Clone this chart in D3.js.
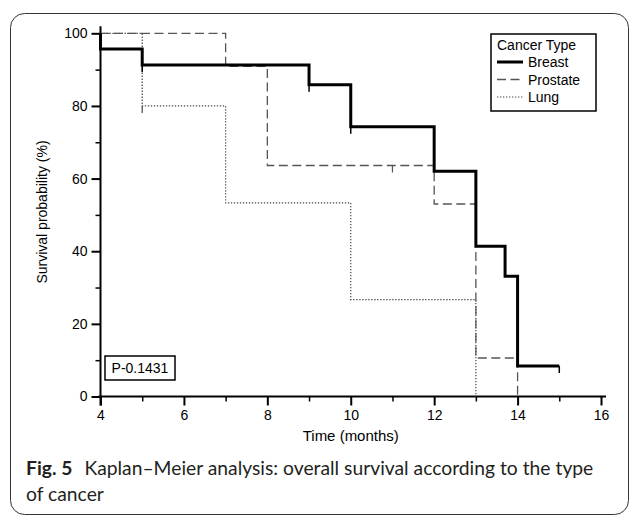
<!DOCTYPE html>
<html lang="en">
<head>
  <meta charset="UTF-8" />
  <title>Kaplan-Meier survival by cancer type</title>
  <script src="https://d3js.org/d3.v7.min.js"></script>
  <style>
    body {
      margin: 0;
      padding: 0;
      background-color: #fff;
    }
    svg {
      display: block;
    }
    .axis text {
      font-family: Arial, "Liberation Sans", sans-serif;
      font-size: 14px;
      fill: #000;
    }
    .axis path,
    .axis line {
      stroke: #000;
    }
  </style>
</head>
<body>
  <svg width="630" height="515"></svg>

  <script>
    // step data (time in months, survival in %)
    const breastTimes = [4, 4, 5, 9, 10, 12, 13, 13.7, 14, 15];
    const breastSurv = [100, 95.7, 91.3, 85.8, 74.3, 62.0, 41.4, 33.1, 8.4, 8.4];
    const breastCensor = [5, 9, 10, 15];

    const prostateTimes = [4, 7, 8, 12, 13, 14];
    const prostateSurv = [100, 90.9, 63.6, 53.0, 10.6, 0];
    const prostateCensor = [11];

    const lungTimes = [4, 5, 7, 10, 13];
    const lungSurv = [100, 80, 53.3, 26.7, 0];
    const lungCensor = [5];

    const xMajor = [4, 6, 8, 10, 12, 14, 16];
    const xMinor = [5, 7, 9, 11, 13, 15];
    const yMajor = [0, 20, 40, 60, 80, 100];
    const yMinor = [10, 30, 50, 70, 90];

    const seriesNames = ["Breast", "Prostate", "Lung"];
    const pLabel = "P-0.1431";

    const svg = d3.select("svg");
    const font = "Arial, 'Liberation Sans', sans-serif";

    // frame round the figure
    svg.append("rect")
      .attr("x", 10.5).attr("y", 13.5)
      .attr("width", 618).attr("height", 501)
      .attr("rx", 14)
      .attr("fill", "none")
      .attr("stroke", "#333")
      .attr("stroke-width", 1);

    const x = d3.scaleLinear().domain([4, 16]).range([100.5, 601]);
    const y = d3.scaleLinear().domain([0, 100]).range([396.5, 33.3]);

    // axes
    const gx = svg.append("g").attr("class", "axis")
      .attr("transform", `translate(0,${y(0)})`);
    gx.call(d3.axisBottom(x).tickValues(xMajor).tickSize(9).tickSizeOuter(0).tickPadding(5));
    gx.select(".domain").remove();
    gx.selectAll(".tick line").attr("stroke-width", 2);

    const gxm = svg.append("g").attr("class", "axis")
      .attr("transform", `translate(0,${y(0)})`);
    gxm.call(d3.axisBottom(x).tickValues(xMinor).tickSize(5).tickFormat(""));
    gxm.select(".domain").remove();
    gxm.selectAll(".tick line").attr("stroke-width", 1.5);

    const gy = svg.append("g").attr("class", "axis")
      .attr("transform", `translate(${x(4)},0)`);
    gy.call(d3.axisLeft(y).tickValues(yMajor).tickSize(9).tickSizeOuter(0).tickPadding(4));
    gy.select(".domain").remove();
    gy.selectAll(".tick line").attr("stroke-width", 2);

    const gym = svg.append("g").attr("class", "axis")
      .attr("transform", `translate(${x(4)},0)`);
    gym.call(d3.axisLeft(y).tickValues(yMinor).tickSize(5).tickFormat(""));
    gym.select(".domain").remove();
    gym.selectAll(".tick line").attr("stroke-width", 1.5);

    // axis lines, running a little past the ends
    svg.append("line")
      .attr("x1", x(4) - 2).attr("x2", x(16) + 5)
      .attr("y1", y(0)).attr("y2", y(0))
      .attr("stroke", "#000").attr("stroke-width", 2);
    svg.append("line")
      .attr("x1", x(4)).attr("x2", x(4))
      .attr("y1", y(0) + 9).attr("y2", y(100) - 7)
      .attr("stroke", "#000").attr("stroke-width", 2);

    // axis titles
    svg.append("text")
      .attr("x", (x(4) + x(16)) / 2)
      .attr("y", 441)
      .attr("text-anchor", "middle")
      .attr("font-family", font)
      .attr("font-size", 15)
      .text("Time (months)");

    svg.append("text")
      .attr("transform", "translate(47,212) rotate(-90)")
      .attr("text-anchor", "middle")
      .attr("font-family", font)
      .attr("font-size", 14)
      .text("Survival probability (%)");

    // survival curves
    const styles = {
      Breast: { stroke: "#000", width: 3, dash: null },
      Prostate: { stroke: "#555", width: 1.3, dash: "9,4.5" },
      Lung: { stroke: "#444", width: 1.2, dash: "1.3,1.7" }
    };

    const series = [
      { name: "Lung", times: lungTimes, surv: lungSurv, censor: lungCensor },
      { name: "Prostate", times: prostateTimes, surv: prostateSurv, censor: prostateCensor },
      { name: "Breast", times: breastTimes, surv: breastSurv, censor: breastCensor }
    ];

    const line = d3.line()
      .x(d => x(d[0]))
      .y(d => y(d[1]))
      .curve(d3.curveStepAfter);

    function survAt(s, t) {
      let v = s.surv[0];
      s.times.forEach((tt, i) => { if (tt <= t) v = s.surv[i]; });
      return v;
    }

    series.forEach(s => {
      const st = styles[s.name];
      const pts = s.times.map((t, i) => [t, s.surv[i]]);
      svg.append("path")
        .datum(pts)
        .attr("d", line)
        .attr("fill", "none")
        .attr("stroke", st.stroke)
        .attr("stroke-width", st.width)
        .attr("stroke-dasharray", st.dash)
        .attr("stroke-linejoin", "miter");

      svg.selectAll(null)
        .data(s.censor)
        .enter().append("line")
        .attr("x1", d => x(d)).attr("x2", d => x(d))
        .attr("y1", d => y(survAt(s, d)))
        .attr("y2", d => y(survAt(s, d)) + 7)
        .attr("stroke", st.stroke)
        .attr("stroke-width", s.name === "Breast" ? 1.5 : 1.2);
    });

    // legend
    const lg = svg.append("g").attr("transform", "translate(491,34)");
    lg.append("rect")
      .attr("width", 105).attr("height", 77)
      .attr("fill", "#fff")
      .attr("stroke", "#000")
      .attr("stroke-width", 1.5);
    lg.append("text")
      .attr("x", 6).attr("y", 16)
      .attr("font-family", font).attr("font-size", 14)
      .text("Cancer Type");
    seriesNames.forEach((name, i) => {
      const st = styles[name];
      const cy = 28 + i * 17.5;
      lg.append("line")
        .attr("x1", 6).attr("x2", 32)
        .attr("y1", cy).attr("y2", cy)
        .attr("stroke", st.stroke)
        .attr("stroke-width", st.width)
        .attr("stroke-dasharray", st.dash);
      lg.append("text")
        .attr("x", 37).attr("y", cy + 5)
        .attr("font-family", font).attr("font-size", 14)
        .text(name);
    });

    // p-value box
    svg.append("rect")
      .attr("x", 105).attr("y", 356)
      .attr("width", 70).attr("height", 24)
      .attr("fill", "#fff")
      .attr("stroke", "#000")
      .attr("stroke-width", 1.5);
    svg.append("text")
      .attr("x", 140).attr("y", 373)
      .attr("text-anchor", "middle")
      .attr("font-family", font).attr("font-size", 14)
      .text(pLabel);

    // caption
    const cap = svg.append("text")
      .attr("x", 26).attr("y", 475)
      .attr("font-family", "Lato, 'Open Sans', sans-serif")
      .attr("font-size", 19.3)
      .attr("fill", "#231f20");
    cap.append("tspan").attr("font-weight", "bold").text("Fig. 5");
    cap.append("tspan").attr("dx", 12).text("Kaplan\u2013Meier analysis: overall survival according to the type");

    svg.append("text")
      .attr("x", 26).attr("y", 501)
      .attr("font-family", "Lato, 'Open Sans', sans-serif")
      .attr("font-size", 19.3)
      .attr("fill", "#231f20")
      .text("of cancer");
  </script>
</body>
</html>
